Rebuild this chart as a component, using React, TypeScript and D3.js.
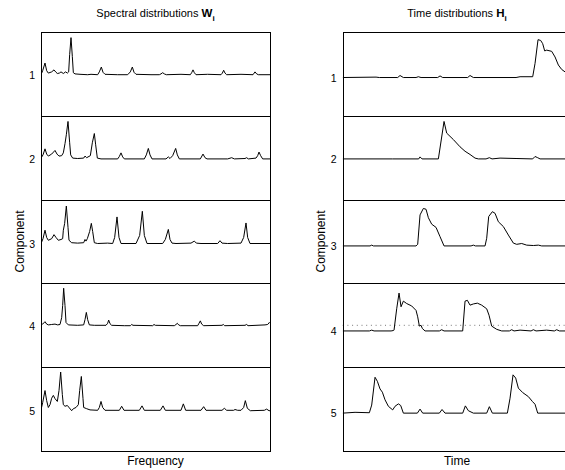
import React from "react";
import * as d3 from "d3";

const components = ["1", "2", "3", "4", "5"];

// Spectral distributions W_i : [frequency bin, amplitude]
const W1: [number, number][] = [[0,0],[5,0.1],[12,0.29],[17,0.1],[22,0.04],[32,0.07],[39,0.12],[45,0.06],[49,0.03],[55,0.04],[60,0.07],[67,0.03],[74,0.07],[79,0.04],[83,0.07],[86,0.5],[90,0.92],[94,0.45],[97,0.05],[102,0.02],[117,0.01],[140,0],[150,0.01],[170,0],[175,0.07],[181,0.19],[186,0.06],[192,0.01],[230,0],[260,0],[268,0.07],[274,0.19],[279,0.06],[285,0.01],[330,0],[355,0],[360,0.02],[365,0.05],[370,0.02],[376,0],[420,0.01],[448,0],[452,0.05],[456,0.12],[460,0.05],[465,0],[500,0.01],[540,0],[544,0.04],[548,0.11],[552,0.04],[557,0],[600,0.01],[636,0],[642,0.07],[647,0.02],[652,0],[687,0]];
const W2: [number, number][] = [[0,0.02],[6,0.1],[12,0.25],[17,0.12],[22,0.07],[32,0.12],[42,0.21],[48,0.12],[54,0.07],[62,0.08],[67,0.15],[72,0.38],[76,0.6],[81,0.93],[86,0.4],[89,0.1],[95,0.02],[110,0.01],[128,0.02],[132,0.07],[137,0.03],[148,0.08],[154,0.4],[160,0.63],[164,0.35],[169,0.02],[180,0],[230,0],[235,0.06],[240,0.15],[245,0.05],[250,0],[310,0],[316,0.1],[322,0.26],[327,0.1],[333,0],[375,0],[382,0.05],[387,0.01],[395,0.08],[404,0.26],[409,0.1],[415,0],[478,0],[486,0.12],[492,0.03],[498,0],[560,0],[572,0.03],[580,0],[612,0.01],[617,0.03],[622,0],[645,0.02],[650,0.08],[654,0.17],[659,0.08],[665,0],[687,0]];
const W3: [number, number][] = [[0,0],[6,0.12],[12,0.33],[17,0.15],[22,0.08],[32,0.12],[39,0.22],[45,0.15],[52,0.08],[60,0.1],[65,0.12],[67,0.33],[71,0.5],[76,0.93],[81,0.4],[84,0.08],[92,0.02],[110,0.01],[128,0.02],[132,0.1],[135,0.06],[139,0.12],[146,0.3],[151,0.5],[155,0.3],[160,0.02],[170,0],[200,0.01],[215,0],[221,0.15],[228,0.66],[234,0.15],[240,0],[285,0],[296,0.2],[304,0.8],[310,0.2],[318,0],[365,0],[373,0.1],[382,0.35],[387,0.1],[393,0.01],[405,0],[450,0.01],[460,0.06],[466,0.01],[480,0],[530,0],[537,0.07],[543,0.01],[560,0],[600,0.01],[608,0.15],[615,0.51],[620,0.15],[627,0],[687,0]];
const W4: [number, number][] = [[0,0.02],[5,0.04],[12,0.1],[17,0.04],[22,0.02],[32,0.03],[42,0.04],[50,0.02],[57,0.03],[62,0.2],[65,0.5],[68,0.93],[72,0.5],[75,0.08],[82,0.02],[110,0.01],[128,0.02],[132,0.15],[136,0.33],[140,0.15],[145,0.02],[160,0.01],[195,0.01],[200,0.06],[203,0.14],[207,0.05],[212,0.01],[250,0],[268,0],[272,0.03],[276,0.01],[335,0],[339,0.03],[343,0.01],[400,0],[405,0.03],[409,0.06],[413,0.02],[418,0],[470,0],[474,0.06],[478,0.12],[482,0.04],[488,0],[543,0.01],[547,0.03],[551,0],[612,0.01],[617,0.03],[621,0],[672,0.02],[680,0.03],[685,0.08],[687,0.06]];
const W5: [number, number][] = [[0,0.02],[5,0.2],[12,0.5],[17,0.25],[22,0.08],[27,0.15],[32,0.31],[37,0.38],[42,0.3],[49,0.23],[54,0.5],[59,0.96],[64,0.4],[67,0.15],[72,0.11],[79,0.13],[85,0.07],[92,0],[97,0.05],[105,0.08],[112,0.15],[116,0.5],[121,0.85],[126,0.3],[128,0.08],[137,0.05],[147,0.02],[170,0.01],[175,0.08],[180,0.23],[185,0.08],[192,0.01],[235,0.01],[242,0.11],[249,0.01],[295,0.01],[303,0.12],[310,0.01],[358,0.01],[366,0.12],[373,0.01],[420,0.01],[427,0.17],[434,0.01],[480,0.01],[488,0.1],[495,0.01],[543,0.01],[550,0.06],[557,0.01],[578,0.01],[582,0.03],[590,0.01],[600,0.01],[608,0.08],[613,0.25],[619,0.06],[628,0],[670,0.01],[677,0.04],[684,0],[687,0]];

// Time distributions H_i : [time frame, activation]
const H1: [number, number][] = [[0,0],[100,0.01],[110,0],[165,0],[172,0.05],[182,0],[220,0],[227,0.02],[235,0],[285,0],[292,0.04],[300,0],[375,0],[382,0.05],[392,0],[520,0],[532,0.02],[570,0.02],[577,0.35],[586,0.94],[594,0.92],[600,0.84],[606,0.66],[612,0.68],[627,0.65],[637,0.51],[647,0.31],[657,0.2],[667,0.14],[677,0.1],[687,0.07]];
const H2: [number, number][] = [[0,0],[150,0],[228,0],[232,0.05],[238,0],[287,0],[304,0.93],[312,0.64],[332,0.48],[352,0.3],[367,0.19],[382,0.11],[397,0.02],[407,0],[430,0],[440,0.03],[448,0],[472,0.02],[520,0.01],[570,0],[577,0.06],[585,0.03],[592,0],[687,0]];
const H3: [number, number][] = [[0,0],[82,0],[87,0.02],[92,0],[220,0],[225,0.04],[232,0.77],[242,0.93],[250,0.91],[257,0.7],[267,0.54],[280,0.46],[292,0.23],[304,0],[385,0],[392,0.02],[398,0],[427,0],[432,0.19],[438,0.73],[449,0.85],[457,0.81],[467,0.6],[482,0.48],[497,0.27],[512,0.07],[522,0.04],[537,0.06],[552,0.02],[572,0.01],[587,0.02],[597,0],[687,0]];
const H4: [number, number][] = [[0,0],[80,0],[87,0.02],[94,0],[145,0],[152,0.01],[154,0.02],[162,0.55],[169,0.94],[175,0.6],[182,0.74],[192,0.68],[207,0.62],[220,0.51],[225,0.35],[230,0.12],[235,0.14],[239,0.06],[247,0],[290,0],[297,0.03],[304,0],[360,0],[367,0.74],[374,0.76],[382,0.64],[392,0.67],[404,0.69],[417,0.64],[432,0.55],[439,0.39],[447,0.12],[462,0.04],[477,0],[500,0],[507,0.03],[514,0],[532,0.02],[565,0],[572,0.03],[580,0],[612,0.02],[635,0],[642,0.03],[650,0],[687,0]];
const H5: [number, number][] = [[0,0],[37,0.02],[80,0.01],[87,0.2],[97,0.89],[104,0.79],[112,0.6],[119,0.52],[127,0.33],[137,0.17],[150,0.08],[157,0.17],[167,0.23],[174,0.19],[182,0],[224,0],[232,0.1],[240,0],[290,0],[298,0.09],[307,0],[360,0],[368,0.18],[377,0.06],[392,0],[432,0],[440,0.16],[449,0],[494,0],[502,0.37],[511,0.95],[519,0.87],[527,0.62],[540,0.51],[557,0.41],[569,0.29],[577,0.22],[585,0],[687,0]];

const spectral = [W1, W2, W3, W4, W5];
const temporal = [H1, H2, H3, H4, H5];

// axis upper limits per panel (lower limit = upper - span)
const yTopW = [1.06, 1.07, 1.09, 1.05, 1.08];
const yTopH = [1.13, 1.07, 1.15, 1.18, 1.14];
const ySpan = 2.08;
const xDomain: [number, number] = [0, 687];
const thresholdPanel = 3;
const thresholdValue = 0.14;

const FONT = "'Liberation Sans', Arial, Helvetica, sans-serif";

export default function App() {
  const W = 565, Hh = 470;
  const top = 32, bottom = 451;
  const band = d3.scaleBand<string>().domain(components).range([top, bottom]).padding(0);
  const bw = band.bandwidth();
  const xL = d3.scaleLinear().domain(xDomain).range([41, 270]);
  const xR = d3.scaleLinear().domain(xDomain).range([342.7, 571.7]);

  const panel = (
    side: string,
    data: [number, number][][],
    tops: number[],
    x: d3.ScaleLinear<number, number>
  ) =>
    components.map((c, i) => {
      const y0 = band(c)!;
      const y = d3.scaleLinear().domain([tops[i] - ySpan, tops[i]]).range([y0 + bw, y0]);
      const line = d3.line<[number, number]>().x((d) => x(d[0])).y((d) => y(d[1]));
      const [xa, xb] = x.range();
      return (
        <g key={side + c}>
          <clipPath id={`clip-${side}-${i}`}>
            <rect x={xa} y={y0} width={xb - xa} height={bw} />
          </clipPath>
          {side === "H" && i === thresholdPanel && (
            <line
              x1={xa}
              x2={xb}
              y1={y(thresholdValue)}
              y2={y(thresholdValue)}
              stroke="#777"
              strokeWidth={1}
              strokeDasharray="1 3.7"
            />
          )}
          <path
            d={line(data[i]) || ""}
            fill="none"
            stroke="#000"
            strokeWidth={1}
            clipPath={`url(#clip-${side}-${i})`}
          />
          <rect
            x={Math.round(xa) + 0.5}
            y={Math.round(y0) + 0.5}
            width={Math.round(xb) - Math.round(xa)}
            height={Math.round(y0 + bw) - Math.round(y0)}
            fill="none"
            stroke="#000"
            strokeWidth={1}
          />
          <text
            x={xa - 6}
            y={y(0)}
            textAnchor="end"
            dominantBaseline="central"
            fontSize={10.5}
            fontFamily={FONT}
          >
            {c}
          </text>
        </g>
      );
    });

  return (
    <svg
      width={W}
      height={Hh}
      style={{ position: "absolute", left: 0, top: 0, background: "#fff" }}
    >
      <rect x={0} y={0} width={W} height={Hh} fill="#fff" />
      {panel("W", spectral, yTopW, xL)}
      {panel("H", temporal, yTopH, xR)}

      <text x={155.5} y={17} textAnchor="middle" fontSize={11} fontFamily={FONT}>
        Spectral distributions{" "}
        <tspan fontWeight="bold" fontSize={11.5}>W</tspan>
        <tspan fontWeight="bold" fontSize={8} dy={3.5}>i</tspan>
      </text>
      <text x={457} y={17} textAnchor="middle" fontSize={11} fontFamily={FONT}>
        Time distributions{" "}
        <tspan fontWeight="bold" fontSize={11.5}>H</tspan>
        <tspan fontWeight="bold" fontSize={8} dy={3.5}>i</tspan>
      </text>

      <text x={155.5} y={465} textAnchor="middle" fontSize={12} fontFamily={FONT}>
        Frequency
      </text>
      <text x={457} y={465} textAnchor="middle" fontSize={12} fontFamily={FONT}>
        Time
      </text>

      <text
        transform={`translate(24,${(top + bottom) / 2}) rotate(-90)`}
        textAnchor="middle"
        fontSize={12}
        fontFamily={FONT}
      >
        Component
      </text>
      <text
        transform={`translate(325,${(top + bottom) / 2}) rotate(-90)`}
        textAnchor="middle"
        fontSize={12}
        fontFamily={FONT}
      >
        Component
      </text>
    </svg>
  );
}
